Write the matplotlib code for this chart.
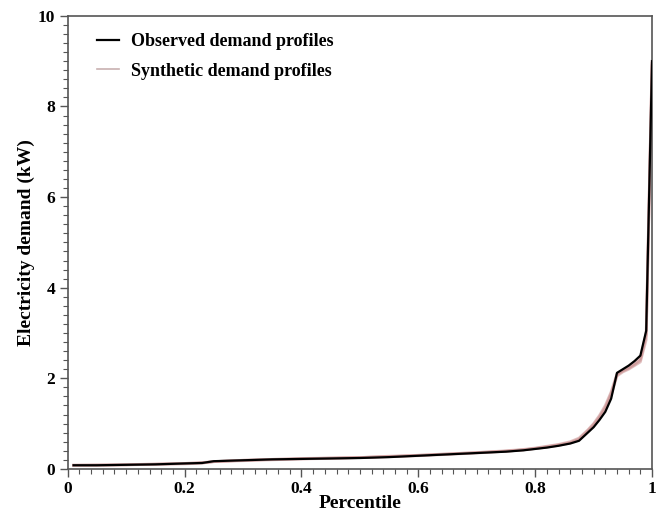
import matplotlib
matplotlib.use("Agg")
import matplotlib.pyplot as plt
from matplotlib.ticker import MultipleLocator

# Percentile grid and demand values (kW)
percentile = [0.01, 0.05, 0.10, 0.15, 0.20, 0.23, 0.25, 0.30, 0.35, 0.40,
              0.45, 0.50, 0.55, 0.60, 0.65, 0.70, 0.75, 0.78, 0.80, 0.82,
              0.84, 0.86, 0.875, 0.89, 0.90, 0.91, 0.92, 0.93, 0.94, 0.95,
              0.96, 0.97, 0.98, 0.99, 1.00]

observed = [0.08, 0.08, 0.09, 0.10, 0.12, 0.13, 0.17, 0.19, 0.21, 0.22,
            0.23, 0.24, 0.26, 0.29, 0.32, 0.35, 0.38, 0.41, 0.44, 0.47,
            0.51, 0.56, 0.62, 0.80, 0.92, 1.08, 1.26, 1.55, 2.12, 2.20,
            2.28, 2.38, 2.50, 3.05, 9.00]

synthetic_a = [0.08, 0.08, 0.09, 0.10, 0.12, 0.14, 0.16, 0.19, 0.21, 0.22,
               0.23, 0.25, 0.27, 0.29, 0.32, 0.35, 0.39, 0.42, 0.45, 0.49,
               0.53, 0.58, 0.66, 0.84, 0.98, 1.15, 1.36, 1.66, 2.08, 2.16,
               2.22, 2.30, 2.40, 2.95, 8.90]
synthetic_b = [0.08, 0.08, 0.09, 0.11, 0.12, 0.13, 0.16, 0.18, 0.20, 0.22,
               0.24, 0.25, 0.27, 0.30, 0.33, 0.36, 0.39, 0.42, 0.45, 0.48,
               0.52, 0.57, 0.64, 0.82, 0.95, 1.12, 1.32, 1.62, 2.05, 2.14,
               2.20, 2.28, 2.36, 2.85, 8.95]
synthetic_c = [0.08, 0.09, 0.09, 0.10, 0.11, 0.13, 0.16, 0.19, 0.21, 0.23,
               0.24, 0.25, 0.28, 0.30, 0.33, 0.36, 0.40, 0.43, 0.46, 0.50,
               0.54, 0.60, 0.68, 0.86, 1.00, 1.18, 1.40, 1.70, 2.10, 2.18,
               2.24, 2.33, 2.44, 3.00, 9.00]
synthetic = [synthetic_a, synthetic_b, synthetic_c]

SYN_COLOR = "#c98f8f"
SPINE = "#555555"

plt.rcParams.update({
    "font.family": "serif",
    "font.serif": ["Liberation Serif", "DejaVu Serif"],
    "font.weight": "bold",
    "axes.labelweight": "bold",
})

fig = plt.figure(figsize=(6.64, 5.13), dpi=100)
ax = fig.add_axes([0.102, 0.086, 0.880, 0.883])

for i, s in enumerate(synthetic):
    ax.plot(percentile, s, color=SYN_COLOR, lw=2.0, alpha=0.55,
            label="Synthetic demand profiles" if i == 0 else None, zorder=2)
ax.plot(percentile, observed, color="black", lw=1.6,
        label="Observed demand profiles", zorder=3)

ax.set_xlim(0, 1)
ax.set_ylim(0, 10)
ax.xaxis.set_major_locator(MultipleLocator(0.2))
ax.xaxis.set_minor_locator(MultipleLocator(0.02))
ax.yaxis.set_major_locator(MultipleLocator(2))
ax.yaxis.set_minor_locator(MultipleLocator(0.2))
ax.xaxis.set_major_formatter(plt.FuncFormatter(lambda v, _: f"{v:g}"))
ax.tick_params(which="major", direction="out", length=6, width=1,
               color=SPINE, labelsize=12.5, pad=3)
ax.tick_params(which="minor", direction="out", length=3.5, width=0.8,
               color=SPINE)
for lab in ax.get_xticklabels() + ax.get_yticklabels():
    lab.set_fontweight("bold")
for sp in ax.spines.values():
    sp.set_color(SPINE)
    sp.set_linewidth(1.2)

ax.set_xlabel("Percentile", fontsize=14, labelpad=-2)
ax.set_ylabel("Electricity demand (kW)", fontsize=14, labelpad=2)

handles, labels = ax.get_legend_handles_labels()
order = [labels.index("Observed demand profiles"),
         labels.index("Synthetic demand profiles")]
leg = ax.legend([handles[k] for k in order], [labels[k] for k in order],
                loc="upper left", bbox_to_anchor=(0.05, 0.962), frameon=False,
                handlelength=1.2, handletextpad=0.7,
                borderaxespad=0, borderpad=0, labelspacing=0.7,
                prop={"weight": "bold", "size": 13})
leg.legend_handles[1].set_color("#c8b0b0")
leg.legend_handles[1].set_alpha(1)
leg.legend_handles[1].set_linewidth(1.2)

fig.savefig("out.png", dpi=100)
